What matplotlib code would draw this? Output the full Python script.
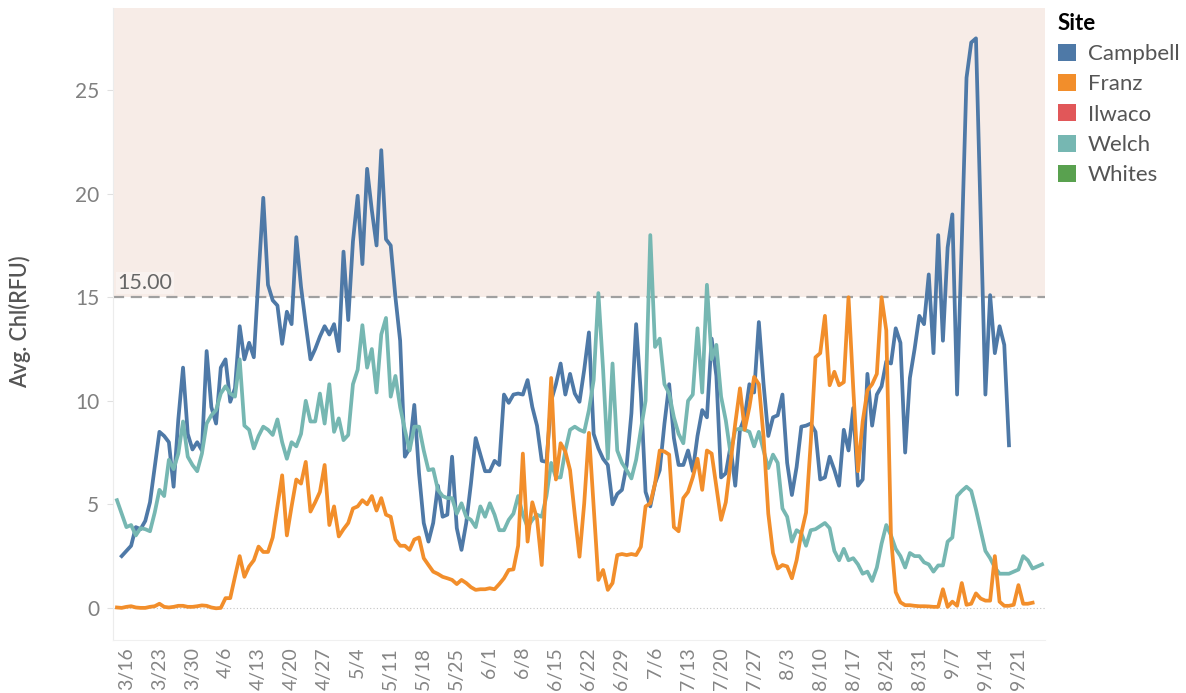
import matplotlib.pyplot as plt
from matplotlib.patches import Patch
import pandas as pd

plt.rcParams['font.family'] = ['Lato', 'DejaVu Sans']

# daily averages, Avg. Chl(RFU)
campbell_start = '2021-03-15'
campbell = [2.5, 2.75, 3.0, 3.9, 3.8, 4.2, 5.1, 6.8, 8.5, 8.3, 8.0, 5.85, 9.1, 11.6, 8.4, 7.65,
            8.0, 7.6, 12.4, 9.7, 8.9, 11.6, 12.0, 9.95, 10.6, 13.6, 12.0, 12.8, 12.1, 16.0, 19.8,
            15.6, 14.85, 14.6, 12.75, 14.3, 13.7, 17.9, 15.5, 13.7, 12.0, 12.5, 13.1, 13.6, 13.2,
            13.7, 12.4, 17.2, 13.9, 17.7, 19.9, 16.6, 21.2, 19.2, 17.5, 22.1, 17.8, 17.5, 15.0,
            12.9, 7.3, 7.7, 9.8, 6.5, 4.1, 3.2, 4.1, 5.9, 4.4, 4.5, 7.3, 3.85, 2.8, 4.1, 6.0, 8.2,
            7.4, 6.6, 6.6, 7.1, 6.9, 10.3, 9.9, 10.3, 10.35, 10.3, 11.0, 9.7, 8.8, 7.1, 7.05, 10.0,
            10.8, 11.8, 10.3, 11.3, 10.35, 9.95, 11.5, 13.3, 8.4, 7.7, 7.2, 6.9, 5.0, 5.5, 5.7, 6.9,
            9.4, 13.7, 10.35, 5.6, 4.9, 6.0, 6.65, 8.9, 10.8, 8.2, 6.9, 6.9, 7.6, 6.6, 8.3, 9.55,
            9.2, 13.0, 11.2, 6.3, 6.5, 7.8, 5.9, 8.6, 9.2, 10.8, 10.4, 13.8, 10.8, 8.3, 9.2, 9.3,
            10.3, 7.0, 5.45, 6.8, 8.75, 8.8, 8.9, 8.5, 6.2, 6.3, 7.3, 6.66, 5.9, 8.6, 7.6, 9.65,
            5.9, 6.2, 11.3, 8.8, 10.3, 10.7, 11.9, 11.8, 13.5, 12.8, 7.5, 11.1, 12.5, 14.1, 13.7,
            16.1, 12.3, 18.0, 12.9, 17.4, 19.0, 10.3, 17.7, 25.6, 27.3, 27.5, 19.0, 10.3, 15.1,
            12.3, 13.6, 12.7, 7.85]

franz_start = '2021-03-14'
franz = [0.02, 0.0, 0.05, 0.08, 0.02, 0.0, 0.0, 0.05, 0.08, 0.2, 0.05, 0.02, 0.05, 0.1, 0.1,
         0.05, 0.05, 0.08, 0.12, 0.1, 0.02, -0.02, 0.0, 0.47, 0.47, 1.5, 2.5, 1.5, 2.0, 2.3, 2.96,
         2.7, 2.7, 3.4, 4.9, 6.4, 3.5, 4.9, 6.2, 6.0, 7.05, 4.65, 5.1, 5.6, 6.9, 4.0, 4.9, 3.45,
         3.8, 4.1, 4.8, 4.9, 5.2, 5.0, 5.4, 4.7, 5.3, 4.5, 4.4, 3.3, 3.0, 3.0, 2.8, 3.3, 3.4, 2.4,
         2.07, 1.75, 1.64, 1.5, 1.43, 1.35, 1.15, 1.35, 1.2, 1.0, 0.87, 0.9, 0.9, 0.95, 0.9, 1.15,
         1.43, 1.83, 1.86, 3.0, 7.45, 3.2, 5.1, 4.3, 2.07, 6.5, 11.1, 6.2, 7.95, 7.55, 6.65, 4.5,
         2.47, 5.05, 8.45, 4.9, 1.35, 1.83, 0.87, 1.2, 2.55, 2.6, 2.55, 2.6, 2.55, 2.95, 4.9, 5.05,
         6.0, 7.6, 7.55, 7.4, 3.9, 3.7, 5.3, 5.6, 6.3, 7.2, 5.7, 7.6, 7.45, 5.85, 4.25, 5.1, 7.0,
         8.9, 10.6, 8.6, 9.7, 11.15, 10.8, 8.25, 4.55, 2.65, 1.9, 2.07, 2.0, 1.43, 2.3, 3.6, 4.6,
         8.0, 12.1, 12.3, 14.1, 10.75, 11.4, 10.75, 10.9, 15.0, 10.6, 6.6, 9.0, 10.5, 10.8, 11.3,
         15.0, 13.4, 3.4, 0.76, 0.27, 0.13, 0.13, 0.1, 0.08, 0.08, 0.07, 0.05, 0.05, 0.9, 0.05,
         0.3, 0.1, 1.2, 0.15, 0.2, 0.7, 0.45, 0.35, 0.35, 2.5, 0.3, 0.1, 0.1, 0.15, 1.1, 0.2, 0.2,
         0.25]

welch_start = '2021-03-14'
welch = [5.2, 4.55, 3.9, 4.0, 3.5, 3.85, 3.8, 3.7, 4.6, 5.7, 5.4, 7.15, 6.7, 7.45, 9.0, 7.3, 6.9,
         6.6, 7.45, 8.9, 9.3, 9.55, 10.35, 10.7, 10.35, 10.2, 12.0, 8.8, 8.6, 7.7, 8.3, 8.75, 8.6,
         8.35, 9.1, 8.0, 7.2, 8.0, 7.8, 8.4, 10.0, 9.0, 9.0, 10.35, 8.9, 10.8, 8.5, 9.15, 8.1,
         8.35, 10.8, 11.5, 13.65, 11.6, 12.5, 10.4, 13.2, 14.0, 10.2, 11.2, 9.7, 8.6, 7.6, 8.75,
         8.75, 7.6, 6.65, 6.7, 5.7, 5.4, 5.3, 5.3, 4.55, 5.05, 4.4, 4.25, 3.9, 4.9, 4.4, 5.05, 4.5,
         3.75, 3.75, 4.25, 4.55, 5.4, 4.5, 3.9, 4.25, 4.5, 4.4, 5.4, 7.0, 6.3, 6.3, 7.6, 8.6, 8.75,
         8.6, 8.5, 9.55, 11.0, 15.2, 11.5, 7.2, 11.8, 7.6, 7.0, 6.65, 6.25, 7.15, 8.6, 10.0, 18.0,
         12.6, 13.0, 10.8, 10.35, 9.2, 8.4, 7.95, 10.0, 10.3, 13.5, 10.4, 15.6, 12.0, 12.7, 10.2,
         9.05, 7.45, 8.6, 8.65, 8.6, 8.5, 7.8, 8.5, 7.6, 6.75, 7.4, 7.0, 4.8, 4.4, 3.2, 3.75, 3.6,
         3.0, 3.75, 3.8, 3.95, 4.1, 3.85, 2.75, 2.3, 2.85, 2.3, 2.4, 2.1, 1.65, 1.75, 1.3, 1.95,
         3.1, 4.0, 3.5, 2.85, 2.5, 1.95, 2.65, 2.5, 2.5, 2.2, 2.1, 1.75, 2.05, 2.05, 3.2, 3.4, 5.4,
         5.65, 5.85, 5.65, 4.75, 3.75, 2.75, 2.4, 1.95, 1.65, 1.65, 1.65, 1.75, 1.85, 2.5, 2.3,
         1.9, 2.0, 2.1]

sites = ['Campbell', 'Franz', 'Ilwaco', 'Welch', 'Whites']
site_colors = ['#4e79a7', '#f28e2b', '#e15759', '#76b7b2', '#59a14f']
threshold = 15
tick_start, tick_end = '2021-03-16', '2021-09-21'

fig = plt.figure(figsize=(11.86, 6.93), dpi=100)
ax = fig.add_axes([0.0953, 0.0765, 0.7857, 0.9115])

# reference band above the threshold
ax.axhspan(threshold, 40, color='#f7ece7', zorder=0, lw=0)
ax.axhline(threshold, color='#a0a0a0', ls=(0, (5, 3)), lw=1.6, zorder=1)
ax.axhline(0, color='#c4c4c4', ls=(0, (1, 2)), lw=0.8, zorder=1)

series = [(campbell_start, campbell, site_colors[0]),
          (welch_start, welch, site_colors[3]),
          (franz_start, franz, site_colors[1])]
for start, vals, c in series:
    dates = pd.date_range(start, periods=len(vals), freq='D')
    ax.plot(dates, vals, color=c, lw=2.7, solid_joinstyle='round', zorder=3)

x0 = pd.Timestamp('2021-03-14')
ax.set_xlim(x0 - pd.Timedelta(hours=20), x0 + pd.Timedelta(days=196.6))
ax.set_ylim(-1.55, 28.95)

ticks = pd.date_range(tick_start, tick_end, freq='7D')
ax.set_xticks(ticks)
ax.set_xticklabels([f'{t.month}/{t.day}' for t in ticks], rotation=90, fontsize=14, color='#858585')
ax.set_yticks([0, 5, 10, 15, 20, 25])
ax.tick_params(axis='y', labelsize=15, labelcolor='#808080', length=4, color='#e0e0e0', pad=6)
ax.tick_params(axis='x', length=0, pad=5)

for s in ['top', 'right']:
    ax.spines[s].set_visible(False)
ax.spines['left'].set_color('#ececec')
ax.spines['bottom'].set_color('#f0f0f0')

ax.text(x0 + pd.Timedelta(hours=4), threshold + 0.2, '15.00', fontsize=15.5, color='#666666',
        va='bottom', ha='left', zorder=4,
        bbox=dict(facecolor='white', alpha=0.35, edgecolor='none', pad=1.0))

fig.text(20 / 1186, 1 - 322 / 693, 'Avg. Chl(RFU)', rotation=90, va='center', ha='center',
         fontsize=15.5, color='#555555', weight='semibold')

handles = [Patch(facecolor=c, edgecolor='none', label=s) for s, c in zip(sites, site_colors)]
fig.legend(handles=handles, title='Site', loc='upper left', bbox_to_anchor=(1058 / 1186, 1 - 13 / 693),
           frameon=False, fontsize=16, handlelength=0.8, handleheight=0.8, handletextpad=0.55,
           labelspacing=0.45, borderpad=0, borderaxespad=0, alignment='left',
           title_fontproperties={'weight': 'bold', 'size': 16}, labelcolor='#555555')

fig.savefig('out.png', dpi=100)
